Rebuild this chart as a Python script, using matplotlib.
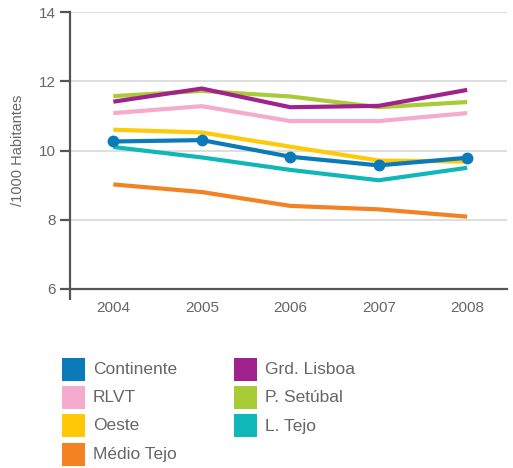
import matplotlib
matplotlib.use("Agg")
import matplotlib.pyplot as plt
from matplotlib.patches import Rectangle

years = [2004, 2005, 2006, 2007, 2008]
continente = [10.26, 10.30, 9.82, 9.57, 9.79]
grd_lisboa = [11.41, 11.79, 11.25, 11.29, 11.75]
p_setubal = [11.57, 11.72, 11.56, 11.25, 11.40]
rlvt = [11.08, 11.28, 10.85, 10.85, 11.08]
oeste = [10.60, 10.52, 10.11, 9.71, 9.68]
l_tejo = [10.10, 9.80, 9.44, 9.14, 9.50]
medio_tejo = [9.02, 8.80, 8.40, 8.30, 8.09]

legend_col1 = ["Continente", "RLVT", "Oeste", "Médio Tejo"]
legend_col2 = ["Grd. Lisboa", "P. Setúbal", "L. Tejo"]
colors = {"Continente": "#0a7bb8", "RLVT": "#f4abcd", "Oeste": "#ffc907",
          "Médio Tejo": "#f38223", "Grd. Lisboa": "#a0228c", "P. Setúbal": "#a7cc38",
          "L. Tejo": "#10b7b8"}

plt.rcParams['font.family'] = ['Liberation Sans', 'DejaVu Sans']
txt = "#666666"
W, H = 513, 468

fig = plt.figure(figsize=(W/100, H/100), dpi=100)
ax = fig.add_axes([70/W, 1-289/H, 437/W, 277/H])

lw = 3.0
ax.plot(years, rlvt, color=colors["RLVT"], lw=lw, solid_capstyle='butt', zorder=3)
ax.plot(years, p_setubal, color=colors["P. Setúbal"], lw=lw, solid_capstyle='butt', zorder=3)
ax.plot(years, grd_lisboa, color=colors["Grd. Lisboa"], lw=lw, solid_capstyle='butt', zorder=4)
ax.plot(years, oeste, color=colors["Oeste"], lw=lw, solid_capstyle='butt', zorder=3)
ax.plot(years, l_tejo, color=colors["L. Tejo"], lw=lw, solid_capstyle='butt', zorder=3)
ax.plot(years, medio_tejo, color=colors["Médio Tejo"], lw=lw, solid_capstyle='butt', zorder=3)
ax.plot(years, continente, color=colors["Continente"], lw=lw, solid_capstyle='butt',
        marker='o', markersize=7.5, zorder=5)

xmin, xmax = 2003.51, 2008.45
ax.set_xlim(xmin, xmax)
ax.set_ylim(6, 14)
ax.set_yticks([6, 8, 10, 12, 14])
ax.set_xticks(years)
ax.set_xticks([xmin], minor=True)
spc = "#555555"
ax.tick_params(axis='x', which='major', length=0, pad=9, labelsize=11, labelcolor=txt)
ax.tick_params(axis='x', which='minor', length=8, width=1.6, color=spc, direction='out')
ax.tick_params(axis='y', length=7, width=1.6, color=spc, pad=3, labelsize=11, labelcolor=txt)
for s in ['top', 'right']:
    ax.spines[s].set_visible(False)
for s in ['left', 'bottom']:
    ax.spines[s].set_color(spc)
    ax.spines[s].set_linewidth(1.6)
ax.grid(axis='y', color="#d8d8d8", lw=1.2, zorder=0)
ax.set_axisbelow(True)
ax.set_ylabel("/1000 Habitantes", fontsize=10.5, color=txt, labelpad=10)

# manual legend
sq = 23
row_tops = [358, 386, 414, 443]
for col_x, names in ((62, legend_col1), (234, legend_col2)):
    for top, name in zip(row_tops, names):
        fig.patches.append(Rectangle((col_x/W, 1-(top+sq)/H), sq/W, sq/H,
                                     transform=fig.transFigure, facecolor=colors[name],
                                     edgecolor='none'))
        fig.text((col_x+31)/W, 1-(top+sq/2+0.5)/H, name, fontsize=12.5, color=txt,
                 va='center', ha='left')

fig.savefig("out.png", dpi=100)
